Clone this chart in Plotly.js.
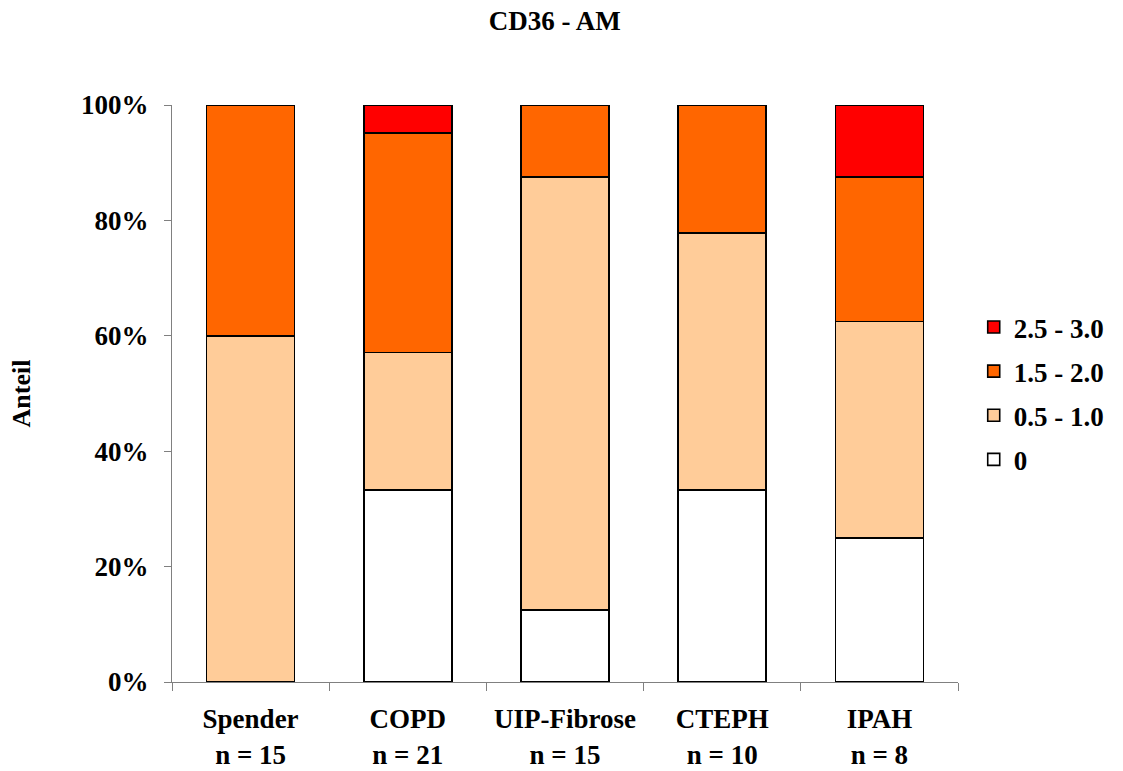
<!DOCTYPE html>
<html>
<head>
<meta charset="utf-8">
<script src="https://cdn.plot.ly/plotly-3.0.1.min.js"></script>
<style>html,body{margin:0;padding:0;background:#fff;}#chart{width:1123px;height:771px;}</style>
</head>
<body>
<div id="chart"></div>
<script>
// Categories (x tick labels)
const categories = ["Spender<br>n = 15", "COPD<br>n = 21", "UIP-Fibrose<br>n = 15", "CTEPH<br>n = 10", "IPAH<br>n = 8"];
// Series values in percent (share per score class)
const score0    = [0, 33.3, 12.5, 33.3, 25.0];
const score05_1 = [60.0, 23.8, 75.0, 44.5, 37.5];
const score15_2 = [40.0, 38.1, 12.5, 22.2, 25.0];
const score25_3 = [0, 4.8, 0, 0, 12.5];
const seriesNames = ["0", "0.5 - 1.0", "1.5 - 2.0", "2.5 - 3.0"];
const seriesColors = ["#FFFFFF", "#FFCC99", "#FF6600", "#FF0000"];
const yTicks = [0, 20, 40, 60, 80, 100];

const fam = "Liberation Serif, Times New Roman, serif";
const seriesData = [score0, score05_1, score15_2, score25_3];

const traces = seriesData.map((vals, i) => ({
  type: "bar",
  name: "<b>" + seriesNames[i] + "</b>",
  x: categories,
  y: vals,
  marker: {color: seriesColors[i], line: {color: "#000", width: 1.6}},
  legendgroup: "g" + i,
  legendrank: 10 - i,
  hoverinfo: "skip"
}));

const layout = {
  width: 1123, height: 771,
  margin: {l: 172, r: 165, t: 105, b: 89},
  paper_bgcolor: "#fff", plot_bgcolor: "#fff",
  barmode: "stack",
  bargap: 0.44,
  font: {family: fam, color: "#000"},
  title: {
    text: "<b>CD36 - AM</b>",
    font: {family: fam, size: 27, color: "#000"},
    x: 0.494, xref: "container", xanchor: "center",
    y: 1 - 21/771, yref: "container", yanchor: "middle"
  },
  xaxis: {
    type: "category",
    range: [-0.5, 4.5],
    tickson: "boundaries",
    ticks: "outside", ticklen: 8, tickcolor: "#808080", tickwidth: 1,
    showline: true, linecolor: "#808080", linewidth: 1,
    showgrid: false, zeroline: false,
    tickfont: {family: fam, size: 27, color: "#000"},
    ticklabelstandoff: 13,
    tickvals: categories,
    ticktext: categories.map(c => "<b>" + c.replace("<br>", "</b><br><b>") + "</b>")
  },
  yaxis: {
    range: [0, 100],
    tickvals: yTicks,
    ticktext: yTicks.map(v => "<b>" + v + "%</b>"),
    ticks: "outside", ticklen: 7, tickcolor: "#808080", tickwidth: 1,
    showline: true, linecolor: "#808080", linewidth: 1,
    showgrid: false, zeroline: false,
    tickfont: {family: fam, size: 27, color: "#000"},
    ticklabelstandoff: 10,
    title: {text: "<b>Anteil</b>", font: {family: fam, size: 26, color: "#000"}, standoff: 42}
  },
  legend: {
    x: 1.02, xanchor: "left", y: 0.5, yanchor: "middle",
    traceorder: "grouped",
    tracegroupgap: 6,
    font: {family: fam, size: 27, color: "#000"},
    itemwidth: 30
  },
  showlegend: true
};

Plotly.newPlot("chart", traces, layout, {displayModeBar: false, staticPlot: true});
</script>
</body>
</html>
